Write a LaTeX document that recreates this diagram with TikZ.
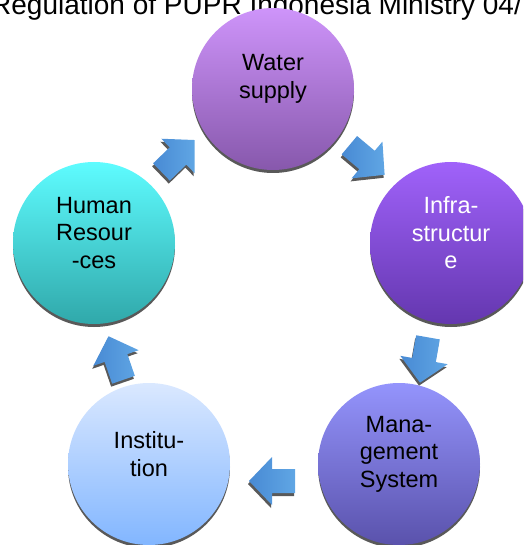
\documentclass[tikz,border=0pt]{standalone}
\usepackage{fontspec}
\setmainfont{Liberation Sans}
\usetikzlibrary{%
    calc,
    positioning,
    shadows
}

\definecolor{waterTop}{RGB}{206,148,250}
\definecolor{waterBot}{RGB}{135,88,172}
\definecolor{infraTop}{RGB}{160,98,250}
\definecolor{infraBot}{RGB}{100,55,175}
\definecolor{mgmtTop}{RGB}{148,148,252}
\definecolor{mgmtBot}{RGB}{90,82,172}
\definecolor{instTop}{RGB}{218,232,255}
\definecolor{instBot}{RGB}{130,182,255}
\definecolor{humanTop}{RGB}{94,252,255}
\definecolor{humanBot}{RGB}{48,168,170}
\definecolor{arrowLight}{RGB}{96,166,228}
\definecolor{arrowDark}{RGB}{72,138,212}

\newcommand\stagefont{\fontsize{23.5}{27.5}\selectfont}
\newcommand\titlefont{\fontsize{28}{31}\selectfont}
\newcommand\blockarrow{(-23,-12) -- (0,-12) -- (0,-24) -- (23,0) -- (0,24) -- (0,12) -- (-23,12) -- cycle}

\tikzset{
    stage/.style = {circle, minimum size=162pt, inner sep=0pt,
        drop shadow={shadow xshift=0pt, shadow yshift=-3pt, fill=black!65, opacity=1}},
    stagetext/.style = {align=center, yshift=10pt, font=\stagefont},
    cyclearrow/.style = {left color=arrowDark, right color=arrowLight},
    arrowshadow/.style = {fill=black!65}
}

\begin{document}
\begin{tikzpicture}[x=1pt, y=-1pt]
    \useasboundingbox (0,0) rectangle (523,545);
    \clip (0,0) rectangle (523,545);

    % title, cut at the top
    \node[anchor=base west, font=\titlefont, inner sep=0pt] (title) at (-9,15)
        {Regulation of PUPR Indonesia Ministry 04/};

    % stages of the cycle
    \node[stage, top color=waterTop, bottom color=waterBot,
        label={[stagetext]center:Water\\supply}] (water) at (273,89) {};
    \node[stage, top color=infraTop, bottom color=infraBot,
        label={[stagetext, text=white]center:Infra-\\structur\\e}] (infra) at (451,243) {};
    \node[stage, top color=mgmtTop, bottom color=mgmtBot,
        label={[stagetext]center:Mana-\\gement\\System}] (mgmt) at (399,464) {};
    \node[stage, top color=instTop, bottom color=instBot,
        label={[stagetext]center:Institu-\\tion}] (inst) at (149,464) {};
    \node[stage, top color=humanTop, bottom color=humanBot,
        label={[stagetext]center:Human\\Resour\\-ces}] (human) at (94,243) {};

    % block arrows between the stages
    \foreach \X/\Y/\Angle in {%
        178/156/44,
        367/160/-40,
        424/360/-100,
        272/481/180,
        116/358/109%
        }
        {
        \fill[arrowshadow, shift={(\X-1,\Y+3)}, rotate=\Angle] \blockarrow;
        \shade[cyclearrow, shift={(\X,\Y)}, rotate=\Angle] \blockarrow;
        }
\end{tikzpicture}
\end{document}
